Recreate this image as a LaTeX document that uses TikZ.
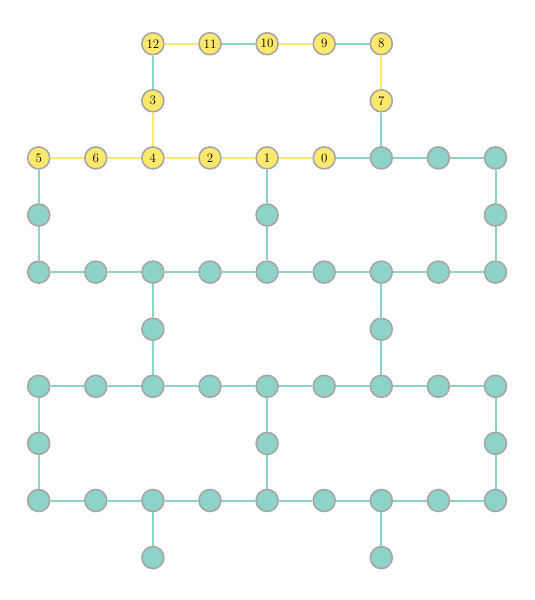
\documentclass[tikz,border=0pt]{standalone}
\usetikzlibrary{backgrounds}
\definecolor{tealc}{HTML}{8DD3C7}
\definecolor{yelc}{HTML}{FFE96D}
\definecolor{bordc}{HTML}{A6A6A6}
\tikzset{
  vert/.style={circle, draw=bordc, line width=1.6pt, minimum size=22pt, inner sep=0pt, font=\fontsize{13}{14}\selectfont},
  tv/.style={vert, fill=tealc},
  yv/.style={vert, fill=yelc},
  te/.style={draw=tealc, line width=2pt},
  ye/.style={draw=yelc, line width=2pt},
}
\begin{document}
\begin{tikzpicture}[x=1pt,y=-1pt]
\useasboundingbox (0,0) rectangle (535,600);
\def\X#1{38.7+57.1*#1}
\def\Y#1{43.7+57.1*#1}
% yellow labelled vertices
\node[yv] (v2-0) at ({\X{2}},{\Y{0}}) {12};
\node[yv] (v3-0) at ({\X{3}},{\Y{0}}) {11};
\node[yv] (v4-0) at ({\X{4}},{\Y{0}}) {10};
\node[yv] (v5-0) at ({\X{5}},{\Y{0}}) {9};
\node[yv] (v6-0) at ({\X{6}},{\Y{0}}) {8};
\node[yv] (v2-1) at ({\X{2}},{\Y{1}}) {3};
\node[yv] (v6-1) at ({\X{6}},{\Y{1}}) {7};
\node[yv] (v0-2) at ({\X{0}},{\Y{2}}) {5};
\node[yv] (v1-2) at ({\X{1}},{\Y{2}}) {6};
\node[yv] (v2-2) at ({\X{2}},{\Y{2}}) {4};
\node[yv] (v3-2) at ({\X{3}},{\Y{2}}) {2};
\node[yv] (v4-2) at ({\X{4}},{\Y{2}}) {1};
\node[yv] (v5-2) at ({\X{5}},{\Y{2}}) {0};
% teal vertices
\foreach \i/\j in {6/2,7/2,8/2, 0/3,4/3,8/3, 2/5,6/5, 0/7,4/7,8/7, 2/9,6/9}
  \node[tv] (v\i-\j) at ({\X{\i}},{\Y{\j}}) {};
\foreach \j in {4,6,8}{
  \foreach \i in {0,...,8}{
    \node[tv] (v\i-\j) at ({\X{\i}},{\Y{\j}}) {};
  }
}
\begin{scope}[on background layer]
% yellow edges
\foreach \a/\b in {2-0/3-0, 4-0/5-0, 6-0/6-1, 2-1/2-2, 0-2/1-2, 1-2/2-2, 2-2/3-2, 3-2/4-2, 4-2/5-2}
  \draw[ye] (v\a) -- (v\b);
% teal edges
\foreach \a/\b in {3-0/4-0, 5-0/6-0, 2-0/2-1, 6-1/6-2, 5-2/6-2, 6-2/7-2, 7-2/8-2,
   0-2/0-3, 4-2/4-3, 8-2/8-3, 0-3/0-4, 4-3/4-4, 8-3/8-4,
   2-4/2-5, 2-5/2-6, 6-4/6-5, 6-5/6-6,
   0-6/0-7, 0-7/0-8, 4-6/4-7, 4-7/4-8, 8-6/8-7, 8-7/8-8,
   2-8/2-9, 6-8/6-9,
   0-4/1-4, 1-4/2-4, 2-4/3-4, 3-4/4-4, 4-4/5-4, 5-4/6-4, 6-4/7-4, 7-4/8-4,
   0-6/1-6, 1-6/2-6, 2-6/3-6, 3-6/4-6, 4-6/5-6, 5-6/6-6, 6-6/7-6, 7-6/8-6,
   0-8/1-8, 1-8/2-8, 2-8/3-8, 3-8/4-8, 4-8/5-8, 5-8/6-8, 6-8/7-8, 7-8/8-8}
  \draw[te] (v\a) -- (v\b);
\end{scope}
\end{tikzpicture}
\end{document}
